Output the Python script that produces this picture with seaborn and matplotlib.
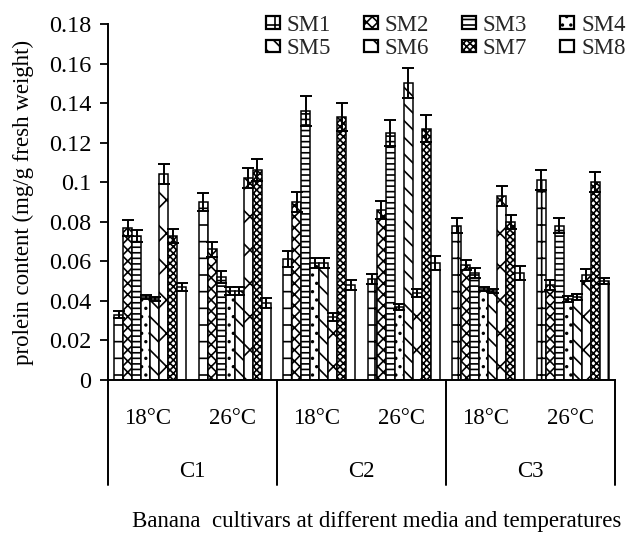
import numpy as np
import pandas as pd
import matplotlib
matplotlib.use("Agg")
import matplotlib.pyplot as plt
import seaborn as sns
from matplotlib.patches import Patch

groups = ["C1 18°C", "C1 26°C", "C2 18°C", "C2 26°C", "C3 18°C", "C3 26°C"]
temp_labels = ["18°C", "26°C", "18°C", "26°C", "18°C", "26°C"]
cultivars = ["C1", "C2", "C3"]
series = ["SM1", "SM2", "SM3", "SM4", "SM5", "SM6", "SM7", "SM8"]

SM1 = [0.033, 0.090, 0.061, 0.051, 0.078, 0.101]
SM2 = [0.077, 0.066, 0.090, 0.086, 0.058, 0.048]
SM3 = [0.073, 0.052, 0.136, 0.125, 0.054, 0.078]
SM4 = [0.042, 0.045, 0.059, 0.037, 0.046, 0.041]
SM5 = [0.041, 0.045, 0.059, 0.150, 0.045, 0.042]
SM6 = [0.104, 0.102, 0.032, 0.044, 0.093, 0.053]
SM7 = [0.073, 0.106, 0.133, 0.127, 0.080, 0.100]
SM8 = [0.047, 0.039, 0.048, 0.059, 0.054, 0.050]

E1 = [0.0017, 0.0046, 0.0040, 0.0025, 0.0037, 0.0050]
E2 = [0.0040, 0.0040, 0.0050, 0.0045, 0.0025, 0.0025]
E3 = [0.0030, 0.0030, 0.0076, 0.0065, 0.0025, 0.0037]
E4 = [0.0010, 0.0020, 0.0025, 0.0015, 0.0010, 0.0014]
E5 = [0.0010, 0.0020, 0.0025, 0.0076, 0.0010, 0.0017]
E6 = [0.0050, 0.0050, 0.0020, 0.0020, 0.0050, 0.0030]
E7 = [0.0035, 0.0055, 0.0070, 0.0068, 0.0034, 0.0050]
E8 = [0.0020, 0.0025, 0.0025, 0.0035, 0.0034, 0.0017]

values = [SM1, SM2, SM3, SM4, SM5, SM6, SM7, SM8]
errors = [E1, E2, E3, E4, E5, E6, E7, E8]
hatches = ["+", "xxx", "---", "..", "\\\\", "x", "xxxxx", "|"]

rows = []
for s, vals, errs in zip(series, values, errors):
    for g, v, e in zip(groups, vals, errs):
        rows.append({"group": g, "series": s, "value": v, "err": e})
df = pd.DataFrame(rows)

sns.set_theme(style="white")
plt.rcParams["font.family"] = ["Liberation Serif", "DejaVu Serif"]
plt.rcParams["hatch.linewidth"] = 1.2
plt.rcParams["hatch.color"] = "black"

FS = 16.5
fig = plt.figure(figsize=(6.32, 5.44), dpi=100)
ax = fig.add_axes([108 / 632, 1 - 380 / 544, (615 - 108) / 632, 356 / 544])

sns.barplot(data=df, x="group", y="value", hue="series", order=groups,
            hue_order=series, width=0.85, errorbar=None, ax=ax,
            palette=["white"] * 8, edgecolor="black", linewidth=1.1,
            legend=False)

for cont, h, errs in zip(ax.containers, hatches, errors):
    xs, ys = [], []
    for p in cont.patches:
        p.set_hatch(h)
        p.set_facecolor("white")
        p.set_edgecolor("black")
        xs.append(p.get_x() + p.get_width() / 2)
        ys.append(p.get_height())
    ax.errorbar(xs, ys, yerr=errs, fmt="none", ecolor="black",
                elinewidth=1.4, capsize=4.5, capthick=1.4, zorder=5)

ax.set_ylim(0, 0.18)
ax.set_xlim(-0.5, 5.5)
ax.set_yticks(np.arange(0, 0.181, 0.02))
ax.set_yticklabels(["0", "0.02", "0.04", "0.06", "0.08", "0.1", "0.12",
                    "0.14", "0.16", "0.18"])
ax.tick_params(axis="y", which="both", left=True, length=6, width=1.3,
               labelsize=17.5, colors="black", pad=6)
ax.set_xticks(range(len(groups)))
ax.set_xticklabels([])
ax.tick_params(axis="x", length=0)
for side in ["top", "right"]:
    ax.spines[side].set_visible(False)
for side in ["left", "bottom"]:
    ax.spines[side].set_color("black")
    ax.spines[side].set_linewidth(1.4)
ax.set_xlabel("")
ax.set_ylabel("prolein content (mg/g fresh weight)", fontsize=FS,
              color="black", labelpad=11)

trans = ax.get_xaxis_transform()
for i, t in enumerate(temp_labels):
    ax.text(i - 0.03, -0.108, t, transform=trans,
            ha="center", va="center", fontsize=FS, color="black")
for j, c in enumerate(cultivars):
    ax.text(2 * j + 0.5, -0.258, c, transform=trans, ha="center",
            va="center", fontsize=FS, color="black")
for xb in [-0.5, 1.5, 3.5, 5.5]:
    ax.plot([xb, xb], [0, -0.295], transform=trans, color="black",
            lw=1.4, clip_on=False)

fig.text(377 / 632, 1 - 522 / 544, "Banana  cultivars at different media and temperatures",
         ha="center", va="center", fontsize=FS, color="black")

handles = [Patch(facecolor="white", edgecolor="black", hatch=h, label=s,
                 linewidth=1.6)
           for s, h in zip(series, hatches)]
order = [0, 4, 1, 5, 2, 6, 3, 7]
fig.legend(handles=[handles[k] for k in order], ncol=4, loc="upper right",
           bbox_to_anchor=(1.008, 0.994), frameon=False, fontsize=FS,
           handlelength=0.6, handleheight=0.45, handletextpad=0.3,
           columnspacing=1.45, labelspacing=0.12, borderaxespad=0.1)

fig.savefig("out.png", dpi=100, facecolor="white")
